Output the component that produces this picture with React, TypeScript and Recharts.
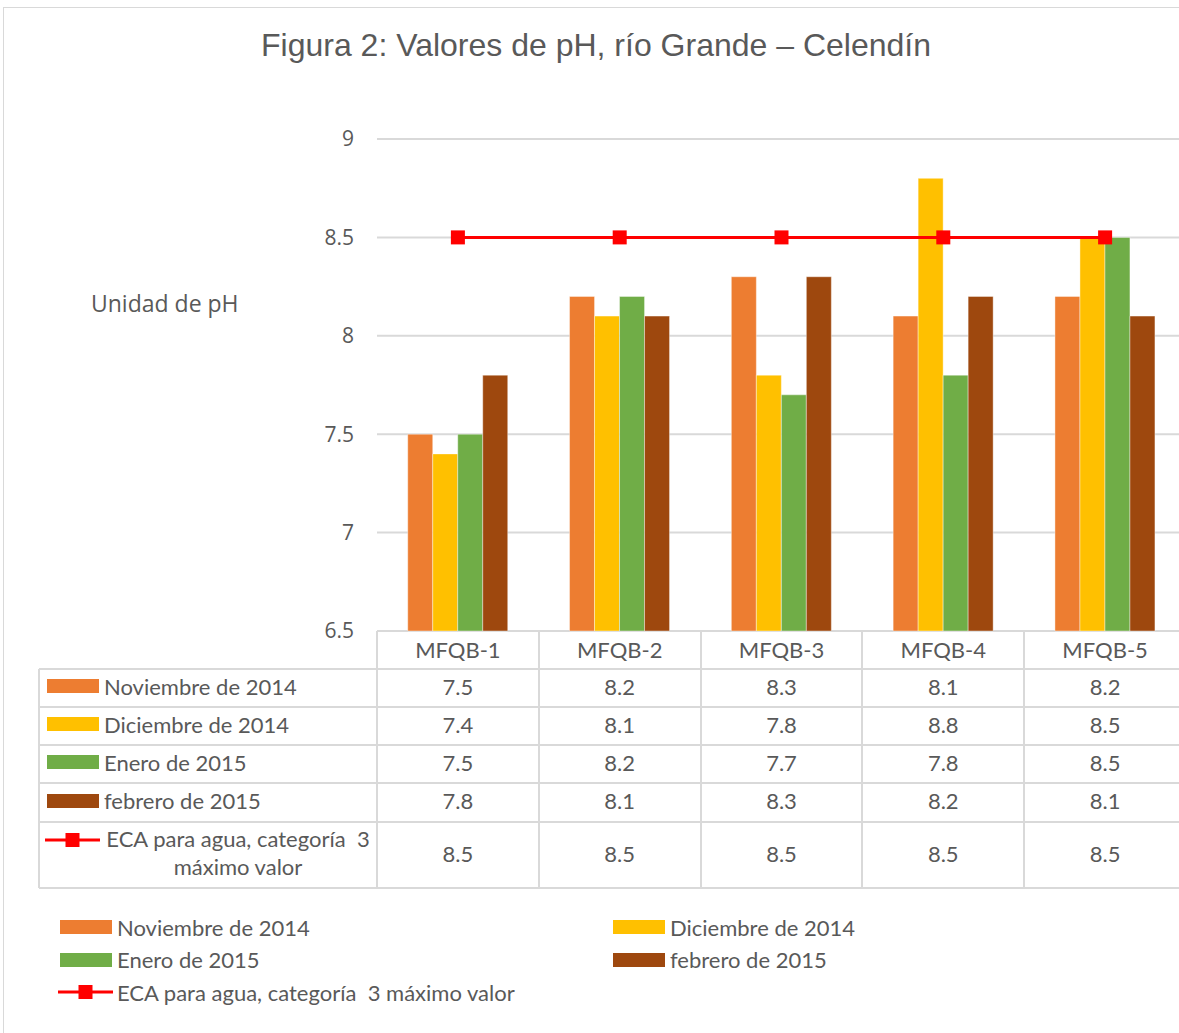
import { Bar, CartesianGrid, ComposedChart, Line, XAxis, YAxis } from 'recharts'

const categories = ['MFQB-1', 'MFQB-2', 'MFQB-3', 'MFQB-4', 'MFQB-5']
const seriesNames = ['Noviembre de 2014', 'Diciembre de 2014', 'Enero de 2015', 'febrero de 2015']
const ecaName = 'ECA para agua, categoría  3 máximo valor'
const noviembre = [7.5, 8.2, 8.3, 8.1, 8.2]
const diciembre = [7.4, 8.1, 7.8, 8.8, 8.5]
const enero = [7.5, 8.2, 7.7, 7.8, 8.5]
const febrero = [7.8, 8.1, 8.3, 8.2, 8.1]
const eca = [8.5, 8.5, 8.5, 8.5, 8.5]
const yTicks = [6.5, 7, 7.5, 8, 8.5, 9]

const COLORS = ['#ED7D31', '#FFC000', '#70AD47', '#9E480E']
const RED = '#FF0000'
const TEXT = '#595959'
const GRID = '#D9D9D9'
const FONT = 'Lato, "Noto Sans", sans-serif'
const AXIS_FONT = '"Open Sans", "Noto Sans", sans-serif'

const seriesValues = [noviembre, diciembre, enero, febrero]
const keys = ['s0', 's1', 's2', 's3']

const data = categories.map((cat, i) => ({
  cat,
  s0: noviembre[i],
  s1: diciembre[i],
  s2: enero[i],
  s3: febrero[i],
  eca: eca[i],
}))

// layout of the plot, table columns follow the same category bands
const CHART_W = 1186
const PLOT_LEFT = 377
const PLOT_TOP = 139
const PLOT_BOTTOM = 631
const CAT_W = (CHART_W - PLOT_LEFT) / categories.length
const rowEdges = [631, 669, 707, 745, 783, 822, 888]
const TABLE_LEFT = 39

const SquareDot = (props: any) => {
  const { cx, cy } = props
  if (cx == null || cy == null) return null
  return <rect x={cx - 7} y={cy - 7} width={14} height={14} fill={RED} />
}

function SwatchKey({ color }: { color: string }) {
  return <span style={{ display: 'inline-block', width: 52, height: 14, background: color }} />
}

function LineKey({ width }: { width: number }) {
  return (
    <svg width={width} height={16} style={{ display: 'block' }}>
      <line x1={0} y1={8} x2={width} y2={8} stroke={RED} strokeWidth={3} />
      <rect x={width / 2 - 7} y={1} width={14} height={14} fill={RED} />
    </svg>
  )
}

export default function App() {
  const hLine = (y: number, x1: number, x2: number, k: string) => (
    <div key={k} style={{ position: 'absolute', left: x1, top: y - 1, width: x2 - x1, height: 2, background: GRID }} />
  )
  const vLine = (x: number, y1: number, y2: number, k: string) => (
    <div key={k} style={{ position: 'absolute', left: x - 1, top: y1, width: 2, height: y2 - y1, background: GRID }} />
  )

  const colEdges = categories.map((_, i) => PLOT_LEFT + i * CAT_W).concat([CHART_W])
  const tableRows = [...seriesValues, eca]

  return (
    <div style={{ position: 'relative', width: 1179, height: 1033, overflow: 'hidden', background: '#fff', fontFamily: FONT, color: TEXT }}>
      <style>{`body{margin:0}`}</style>
      <div style={{ position: 'absolute', left: 3, top: 7, width: 1300, height: 1300, borderLeft: `1px solid ${GRID}`, borderTop: `1px solid ${GRID}` }} />

      <div style={{ position: 'absolute', left: 0, top: 27, width: 1192, textAlign: 'center', fontFamily: '"Liberation Sans", Arial, sans-serif', fontSize: 32, color: TEXT }}>
        Figura 2: Valores de pH, río Grande – Celendín
      </div>

      <div style={{ position: 'absolute', left: 91, top: 287, fontSize: 23, fontFamily: AXIS_FONT }}>Unidad de pH</div>

      <div style={{ position: 'absolute', left: 0, top: 0 }}>
        <ComposedChart
          width={CHART_W}
          height={PLOT_BOTTOM + 20}
          data={data}
          margin={{ top: PLOT_TOP, right: 0, bottom: 20, left: 0 }}
          barGap={0}
          barCategoryGap="19%"
        >
          <CartesianGrid vertical={false} stroke={GRID} strokeWidth={2} />
          <XAxis dataKey="cat" hide />
          <YAxis
            width={PLOT_LEFT}
            domain={[6.5, 9]}
            ticks={yTicks}
            interval={0}
            axisLine={false}
            tickLine={false}
            tickSize={0}
            tickMargin={23}
            tick={{ fill: TEXT, fontSize: 21, fontFamily: AXIS_FONT }}
          />
          {keys.map((k, i) => (
            <Bar key={k} dataKey={k} name={seriesNames[i]} fill={COLORS[i]} stroke="#fff" strokeOpacity={0.5} strokeWidth={0.8} isAnimationActive={false} />
          ))}
          <Line
            dataKey="eca"
            name={ecaName}
            stroke={RED}
            strokeWidth={3}
            dot={<SquareDot />}
            activeDot={false}
            isAnimationActive={false}
          />
        </ComposedChart>
      </div>

      {/* data table */}
      {categories.map((c, i) => (
        <div key={c} style={{ position: 'absolute', left: colEdges[i], top: rowEdges[0] - 1, width: CAT_W, height: rowEdges[1] - rowEdges[0], display: 'flex', alignItems: 'center', justifyContent: 'center', fontSize: 22 }}>
          {c}
        </div>
      ))}
      {tableRows.map((vals, r) => (
        <div key={'r' + r}>
          <div style={{ position: 'absolute', left: TABLE_LEFT + 8, top: rowEdges[r + 1] - 2, height: rowEdges[r + 2] - rowEdges[r + 1], width: PLOT_LEFT - TABLE_LEFT - 8, display: 'flex', alignItems: 'center', fontSize: 22 }}>
            {r < 4 ? (
              <>
                <SwatchKey color={COLORS[r]} />
                <span style={{ marginLeft: 5 }}>{seriesNames[r]}</span>
              </>
            ) : (
              <>
                <div style={{ alignSelf: 'flex-start', marginTop: 12, marginLeft: -2 }}><LineKey width={55} /></div>
                <div style={{ width: 272, marginLeft: 2, textAlign: 'center', whiteSpace: 'pre-wrap', lineHeight: '28px' }}>{ecaName}</div>
              </>
            )}
          </div>
          {vals.map((v, i) => (
            <div key={i} style={{ position: 'absolute', left: colEdges[i], top: rowEdges[r + 1] - 2, width: CAT_W, height: rowEdges[r + 2] - rowEdges[r + 1], display: 'flex', alignItems: 'center', justifyContent: 'center', fontSize: 22 }}>
              {v}
            </div>
          ))}
        </div>
      ))}
      {rowEdges.slice(1).map((y, i) => hLine(y, TABLE_LEFT, CHART_W, 'h' + i))}
      {vLine(TABLE_LEFT, rowEdges[1], rowEdges[6], 'vl')}
      {colEdges.slice(0, 5).map((x, i) => vLine(x, rowEdges[0], rowEdges[6], 'v' + i))}

      {/* legend */}
      {seriesNames.map((n, i) => (
        <div key={n} style={{ position: 'absolute', left: i % 2 === 0 ? 60 : 613, top: 913 + Math.floor(i / 2) * 32.5, height: 28, display: 'flex', alignItems: 'center', fontSize: 22 }}>
          <SwatchKey color={COLORS[i]} />
          <span style={{ marginLeft: 5, whiteSpace: 'pre' }}>{n}</span>
        </div>
      ))}
      <div style={{ position: 'absolute', left: 58, top: 978, height: 28, display: 'flex', alignItems: 'center', fontSize: 22 }}>
        <LineKey width={55} />
        <span style={{ marginLeft: 4, whiteSpace: 'pre' }}>{ecaName}</span>
      </div>
    </div>
  )
}
